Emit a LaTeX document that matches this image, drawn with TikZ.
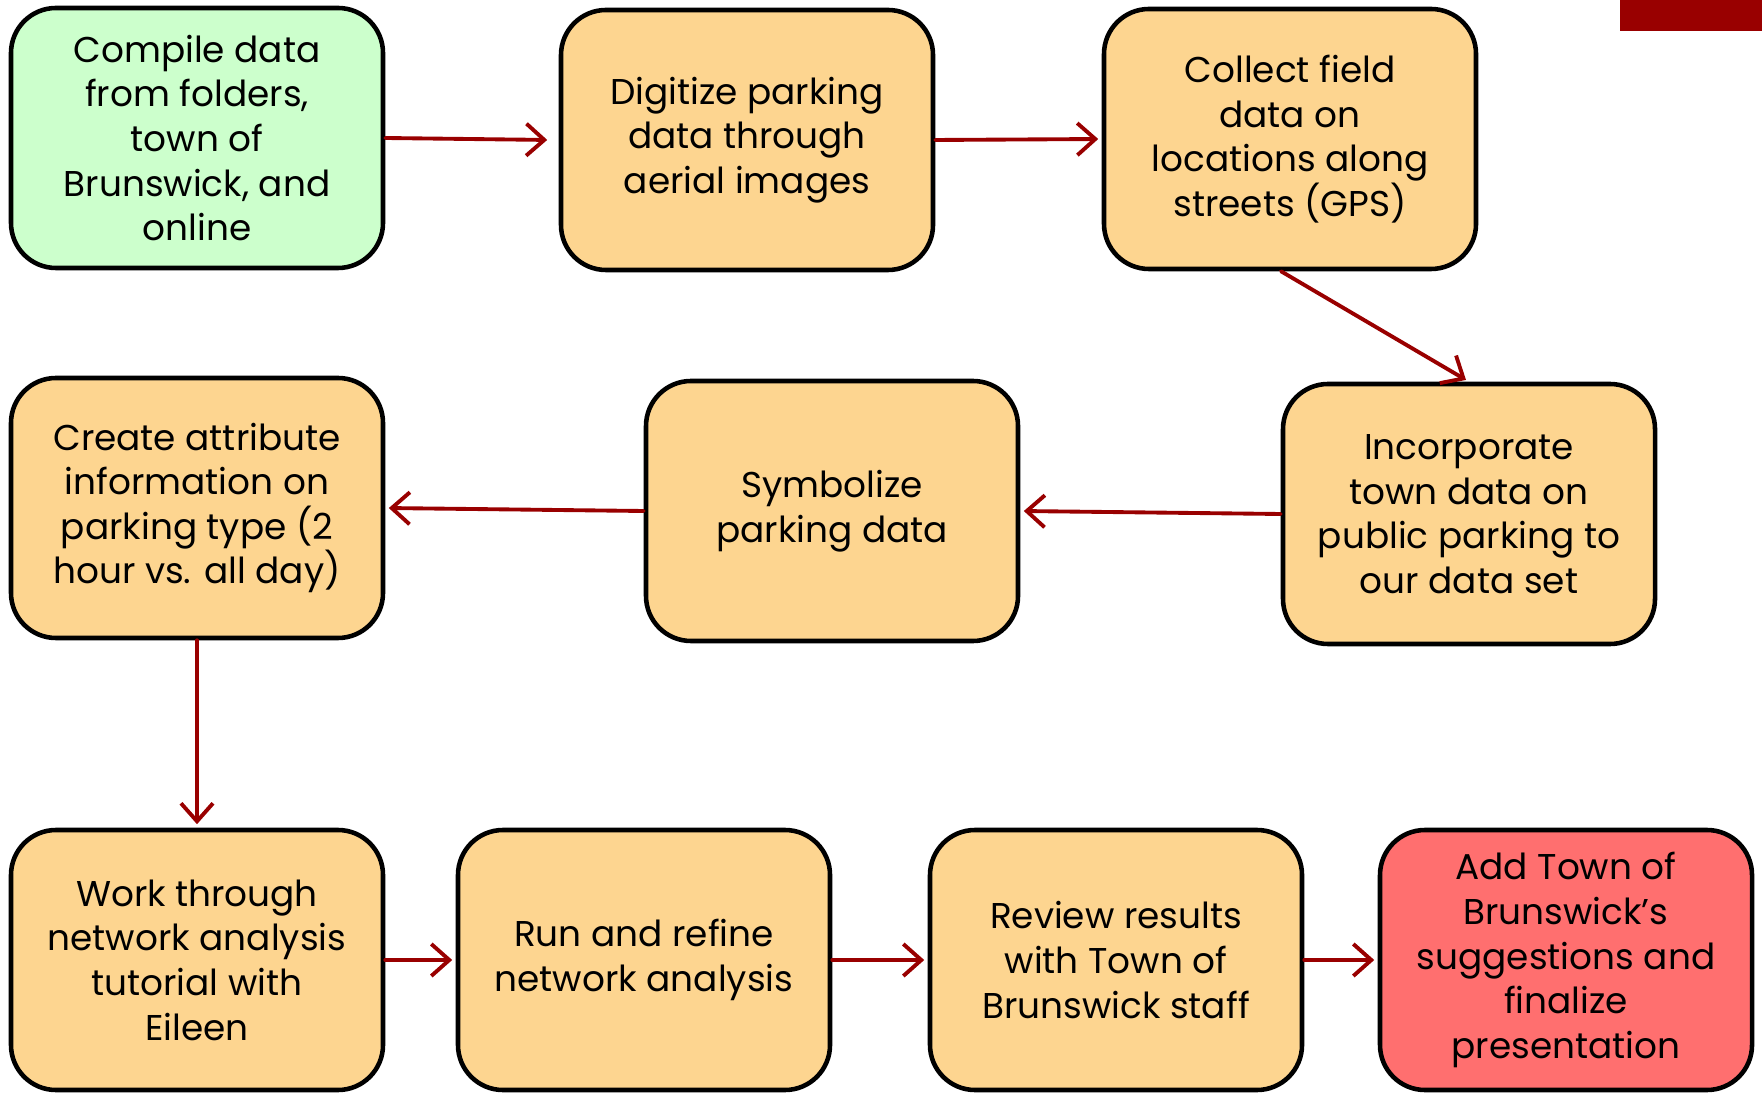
\documentclass[tikz,border=0pt]{standalone}
\usepackage{fontspec}
\setmainfont{Poppins}
\usetikzlibrary{arrows.meta}
\definecolor{gr}{HTML}{CCFFCC}
\definecolor{or}{HTML}{FDD590}
\definecolor{rd}{HTML}{FF6F6F}
\definecolor{dr}{HTML}{990000}
\begin{document}
\begin{tikzpicture}[line cap=round, line join=round,
    stepbox/.style={draw=black, line width=1.3pt, rounded corners=0.45cm, fill=or,
        minimum width=3.72cm, minimum height=2.60cm, align=center,
        font=\fontsize{10.2}{12.7}\selectfont, inner sep=2pt},
    flow/.style={dr, line width=1.1pt, -{Straight Barb[length=1.8mm, width=3.2mm, line width=1.1pt]}, shorten >=1pt}
]

    % page frame (same size as the slide crop)
    \useasboundingbox (0,0) rectangle (17.62,10.94);

    % red corner bar
    \fill[dr] (16.20,10.63) rectangle (17.62,10.94);

    % top row
    \node[stepbox, fill=gr] (compile) at (1.97,9.56) {Compile data\\from folders,\\town of\\Brunswick, and\\online};
    \node[stepbox] (digitize) at (7.47,9.54) {Digitize parking\\data through\\aerial images};
    \node[stepbox] (collect) at (12.90,9.55) {Collect field\\data on\\locations along\\streets (GPS)};

    % middle row
    \node[stepbox] (attrib) at (1.97,5.86) {Create attribute\\information on\\parking type (2\\hour vs. all day)};
    \node[stepbox] (symbol) at (8.32,5.83) {Symbolize\\parking data};
    \node[stepbox] (incorp) at (14.69,5.80) {Incorporate\\town data on\\public parking to\\our data set};

    % bottom row
    \node[stepbox] (tutor) at (1.97,1.34) {Work through\\network analysis\\tutorial with\\Eileen};
    \node[stepbox] (refine) at (6.44,1.34) {Run and refine\\network analysis};
    \node[stepbox] (review) at (11.16,1.34) {Review results\\with Town of\\Brunswick staff};
    \node[stepbox, fill=rd] (final) at (15.66,1.34) {Add Town of\\Brunswick’s\\suggestions and\\finalize\\presentation};

    % connectors
    \draw[flow] (compile.east) -- ([xshift=-0.08cm]digitize.west);
    \draw[flow] (digitize.east) -- (collect.west);
    \draw[flow] ([xshift=-0.09cm]collect.south) -- (incorp.north);
    \draw[flow] (incorp.west) -- (symbol.east);
    \draw[flow] (symbol.west) -- (attrib.east);
    \draw[flow] (attrib.south) -- (tutor.north);
    \draw[flow] (tutor.east) -- (refine.west);
    \draw[flow] (refine.east) -- (review.west);
    \draw[flow] (review.east) -- (final.west);

\end{tikzpicture}
\end{document}
